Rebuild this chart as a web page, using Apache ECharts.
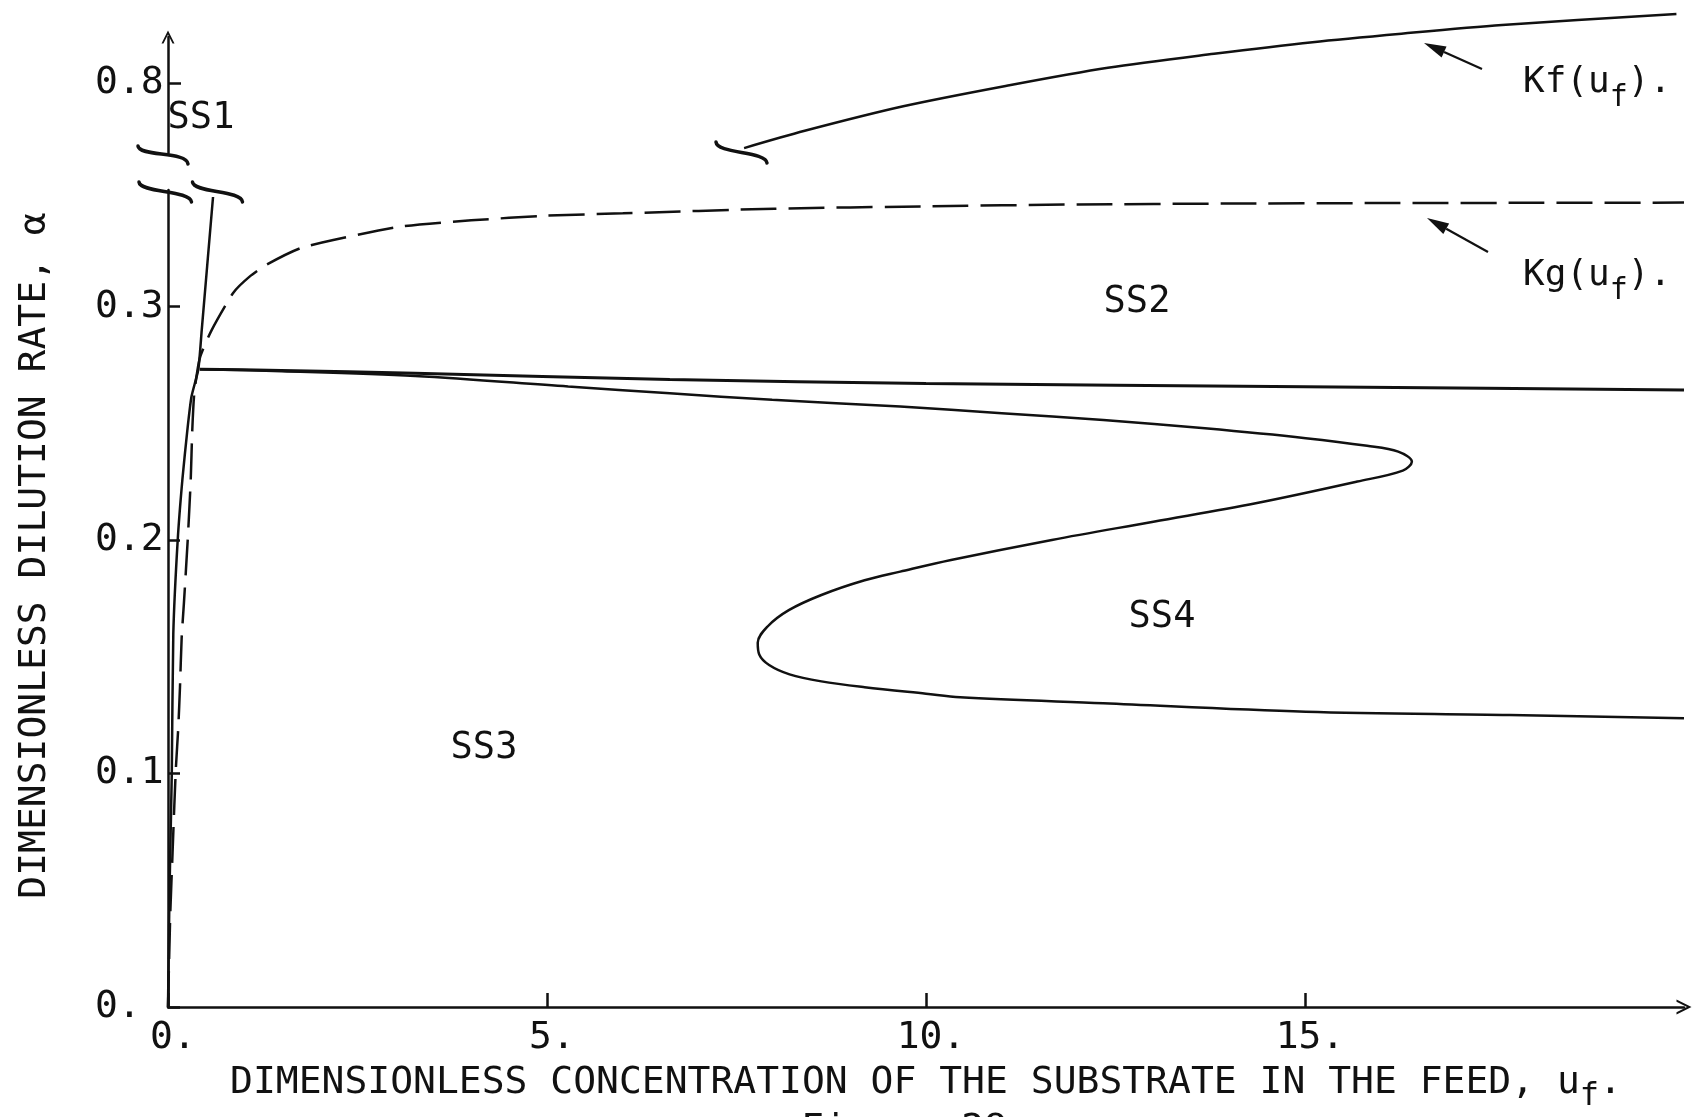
<!DOCTYPE html>
<html>
<head>
<meta charset="utf-8">
<script src="https://cdn.jsdelivr.net/npm/echarts@6/dist/echarts.min.js"></script>
<style>
html,body{margin:0;padding:0;background:#ffffff;}
#chart{width:1697px;height:1117px;}
</style>
</head>
<body>
<div id="chart"></div>
<script>
// ---------------- data ----------------
const xTickValues = [0, 5, 10, 15];
const yTickValuesLower = [0, 0.1, 0.2, 0.3];
const yTickValuesUpper = [0.8];

// steep solid boundary leaving the origin (SS1 / SS3 border)
const boundaryA = [[0,0],[0.02,0.05],[0.05,0.1],[0.07,0.16],[0.128,0.2],[0.19,0.226],[0.255,0.247],[0.31,0.2615],[0.40,0.2732],[0.445,0.29],[0.594,0.347]];

// Kg(uf) dashed curve
const kgCurve = [[0,0],[0.03,0.04],[0.06,0.066],[0.083,0.086],[0.105,0.103],[0.136,0.12],[0.158,0.137],[0.18,0.158],[0.21,0.173],[0.26,0.2],[0.30,0.226],[0.32,0.247],[0.347,0.263],[0.42,0.278],[0.576,0.29],[0.862,0.306],[1.08,0.313],[1.30,0.318],[1.74,0.325],[2.18,0.3286],[3.06,0.3343],[4.0,0.337],[5.0,0.339],[6.0,0.340],[8.0,0.342],[10,0.343],[12,0.3438],[14,0.3442],[16,0.3444],[18,0.3445],[20,0.3446]];

// nearly flat solid boundary (SS2 / SS3 border)
const boundaryC = [[0.42,0.2732],[1.5,0.2727],[3.26,0.2715],[6.62,0.2688],[10,0.2671],[15,0.2657],[20,0.2643]];

// S-shaped boundary around SS4
const boundarySS4 = [[0.42,0.2732],[1.5,0.2724],[3.26,0.2703],[5.28,0.2658],[6.62,0.2629],[7.97,0.2601],[9.66,0.2572],[11.0,0.2544],[12.34,0.2515],[13.68,0.2479],[15.01,0.2437],[15.82,0.2404],[16.23,0.2379],[16.41,0.2336],[16.29,0.2298],[15.69,0.2251],[14.35,0.2158],[13.0,0.2079],[11.66,0.2001],[10.33,0.1915],[9.66,0.1865],[9.19,0.1828],[8.62,0.1765],[8.19,0.1700],[7.91,0.1630],[7.78,0.1560],[7.80,0.1510],[7.93,0.1465],[8.2,0.1425],[8.62,0.1395],[9.19,0.1370],[10.0,0.1342],[10.45,0.1327],[12.34,0.1301],[15.01,0.1265],[17.70,0.1251],[20,0.1237]];

// Kf(uf) solid curve (upper, broken-axis part)
const kfCurve = [[7.6,0.7721],[8.4,0.7795],[9.7,0.7900],[11.1,0.7990],[12.4,0.8065],[13.8,0.8125],[15.1,0.8175],[16.3,0.8212],[17.6,0.8248],[19.9,0.8296]];

// ---------------- styling ----------------
const INK = '#111111';
const FONT = '"DejaVu Sans Mono", "Liberation Mono", monospace';
const CHEVRON = 'path://M0,20 L10,0 L20,20 L17,20 L10,6 L3,20 Z';

const chart = echarts.init(document.getElementById('chart'), null, {renderer: 'canvas'});

const lineSeries = (data, xi, yi, extra) => Object.assign({
  type: 'line', data: data, xAxisIndex: xi, yAxisIndex: yi,
  symbol: 'none', showSymbol: false, silent: true,
  lineStyle: {color: INK, width: 2.5}
}, extra || {});

// integral-sign shaped axis-break mark: start point, two control points, end point
const breakMark = (p0, c1, c2, p1) => ({
  type: 'bezierCurve', z: 100, silent: true,
  shape: {x1: p0[0], y1: p0[1], cpx1: c1[0], cpy1: c1[1], cpx2: c2[0], cpy2: c2[1], x2: p1[0], y2: p1[1]},
  style: {stroke: INK, fill: null, lineWidth: 3.5, lineCap: 'round'}
});

const arrow = (tail, tip) => {
  const dx = tip[0] - tail[0], dy = tip[1] - tail[1];
  const len = Math.sqrt(dx*dx + dy*dy), ux = dx/len, uy = dy/len;
  const hl = 22, hw = 6;
  const bx = tip[0] - ux*hl, by = tip[1] - uy*hl;
  return [
    {type: 'line', z: 100, silent: true, shape: {x1: tail[0], y1: tail[1], x2: bx, y2: by}, style: {stroke: INK, lineWidth: 2.2}},
    {type: 'polygon', z: 100, silent: true, shape: {points: [tip, [bx - uy*hw, by + ux*hw], [bx + uy*hw, by - ux*hw]]}, style: {fill: INK}}
  ];
};

const plainText = (txt, x, y, size) => ({
  type: 'text', z: 100, silent: true, x: x, y: y,
  style: {text: txt, fill: INK, fontFamily: FONT, fontSize: size, textAlign: 'center', textVerticalAlign: 'middle'}
});

// label with a lowered subscript "f"
const subText = (main, x, y) => ({
  type: 'text', z: 100, silent: true, x: x, y: y,
  style: {
    text: '{n|' + main + '(u}{s|f}{n|).}',
    fill: INK, textAlign: 'left', textVerticalAlign: 'middle',
    rich: {
      n: {fontFamily: FONT, fontSize: 36, lineHeight: 40, fill: INK},
      s: {fontFamily: FONT, fontSize: 30, lineHeight: 32, padding: [30, 0, 0, 0], fill: INK}
    }
  }
});

const option = {
  backgroundColor: '#ffffff',
  animation: false,
  grid: [
    {left: 168, right: 13, top: 37, height: 116, containLabel: false, outerBoundsMode: 'none'},
    {left: 168, right: 13, top: 190, height: 817, containLabel: false, outerBoundsMode: 'none'}
  ],
  xAxis: [
    {type: 'value', gridIndex: 0, min: 0, max: 20, show: false},
    {
      type: 'value', gridIndex: 1, min: 0, max: 20,
      axisLine: {show: true, onZero: false, lineStyle: {color: INK, width: 2.5}, symbol: ['none', CHEVRON], symbolSize: [15, 17]},
      axisTick: {show: true, inside: true, length: 14, lineStyle: {color: INK, width: 2.5}, customValues: xTickValues},
      axisLabel: {show: true, customValues: xTickValues, formatter: v => v + '.', color: INK, fontFamily: FONT, fontSize: 38, margin: 12, padding: [0, 0, 0, 10]},
      splitLine: {show: false},
      name: '{n|DIMENSIONLESS CONCENTRATION OF THE SUBSTRATE IN THE FEED, u}{s|f}{n|.}',
      nameLocation: 'middle', nameGap: 55, nameMoveOverlap: false,
      nameTextStyle: {
        color: INK,
        rich: {
          n: {fontFamily: FONT, fontSize: 38, lineHeight: 42, color: INK},
          s: {fontFamily: FONT, fontSize: 32, lineHeight: 34, padding: [28, 0, 0, 0], color: INK}
        }
      }
    }
  ],
  yAxis: [
    {
      type: 'value', gridIndex: 0, min: 0.77, max: 0.8197,
      axisLine: {show: true, onZero: false, lineStyle: {color: INK, width: 2.5}, symbol: ['none', CHEVRON], symbolSize: [13, 15]},
      axisTick: {show: true, inside: true, length: 13, lineStyle: {color: INK, width: 2.5}, customValues: yTickValuesUpper},
      axisLabel: {show: true, customValues: yTickValuesUpper, formatter: v => v.toFixed(1), align: 'left', margin: 73, color: INK, fontFamily: FONT, fontSize: 38},
      splitLine: {show: false}
    },
    {
      type: 'value', gridIndex: 1, min: 0, max: 0.35,
      axisLine: {show: true, onZero: false, lineStyle: {color: INK, width: 2.5}},
      axisTick: {show: true, inside: true, length: 12, lineStyle: {color: INK, width: 2.5}, customValues: yTickValuesLower},
      axisLabel: {show: true, customValues: yTickValuesLower, formatter: v => v === 0 ? '0.' : v.toFixed(1), align: 'left', margin: 73, color: INK, fontFamily: FONT, fontSize: 38},
      splitLine: {show: false},
      name: 'DIMENSIONLESS DILUTION RATE, α',
      nameLocation: 'middle', nameRotate: 90, nameGap: 114, nameMoveOverlap: false,
      nameTextStyle: {color: INK, fontFamily: FONT, fontSize: 38, padding: [0, 0, 0, 86]}
    }
  ],
  series: [
    lineSeries(boundaryA, 1, 1, {name: 'SS1 boundary', smooth: 0.2}),
    lineSeries(kgCurve, 1, 1, {name: 'Kg(uf)', smooth: 0.2, lineStyle: {color: INK, width: 2.5, type: [36, 12]}}),
    lineSeries(boundaryC, 1, 1, {name: 'SS2 boundary', smooth: 0.2, lineStyle: {color: INK, width: 3}}),
    lineSeries(boundarySS4, 1, 1, {name: 'SS4 boundary', smooth: 0.35}),
    lineSeries(kfCurve, 0, 0, {name: 'Kf(uf)', smooth: 0.3, clip: false})
  ],
  graphic: [
    breakMark([138,146], [139,157], [187,151], [188,164]),
    breakMark([139,182], [140,193], [190,190], [191.5,202]),
    breakMark([192.5,182], [193.5,193], [241.5,190], [242.5,202]),
    breakMark([716,142], [717,154], [766,151], [767,163]),
    ...arrow([1482, 69], [1424, 43]),
    ...arrow([1488, 252], [1427, 218]),
    subText('Kf', 1523, 83),
    subText('Kg', 1523, 276),
    plainText('SS1', 201, 118, 37),
    plainText('SS2', 1137, 302, 37),
    plainText('SS3', 484, 748, 37),
    plainText('SS4', 1162, 617, 37),
    {type: 'text', z: 100, silent: true, x: 801, y: 1111,
     style: {text: 'Figure 28', fill: INK, fontFamily: FONT, fontSize: 38, textAlign: 'left', textVerticalAlign: 'top'}}
  ]
};

chart.setOption(option);
</script>
</body>
</html>
